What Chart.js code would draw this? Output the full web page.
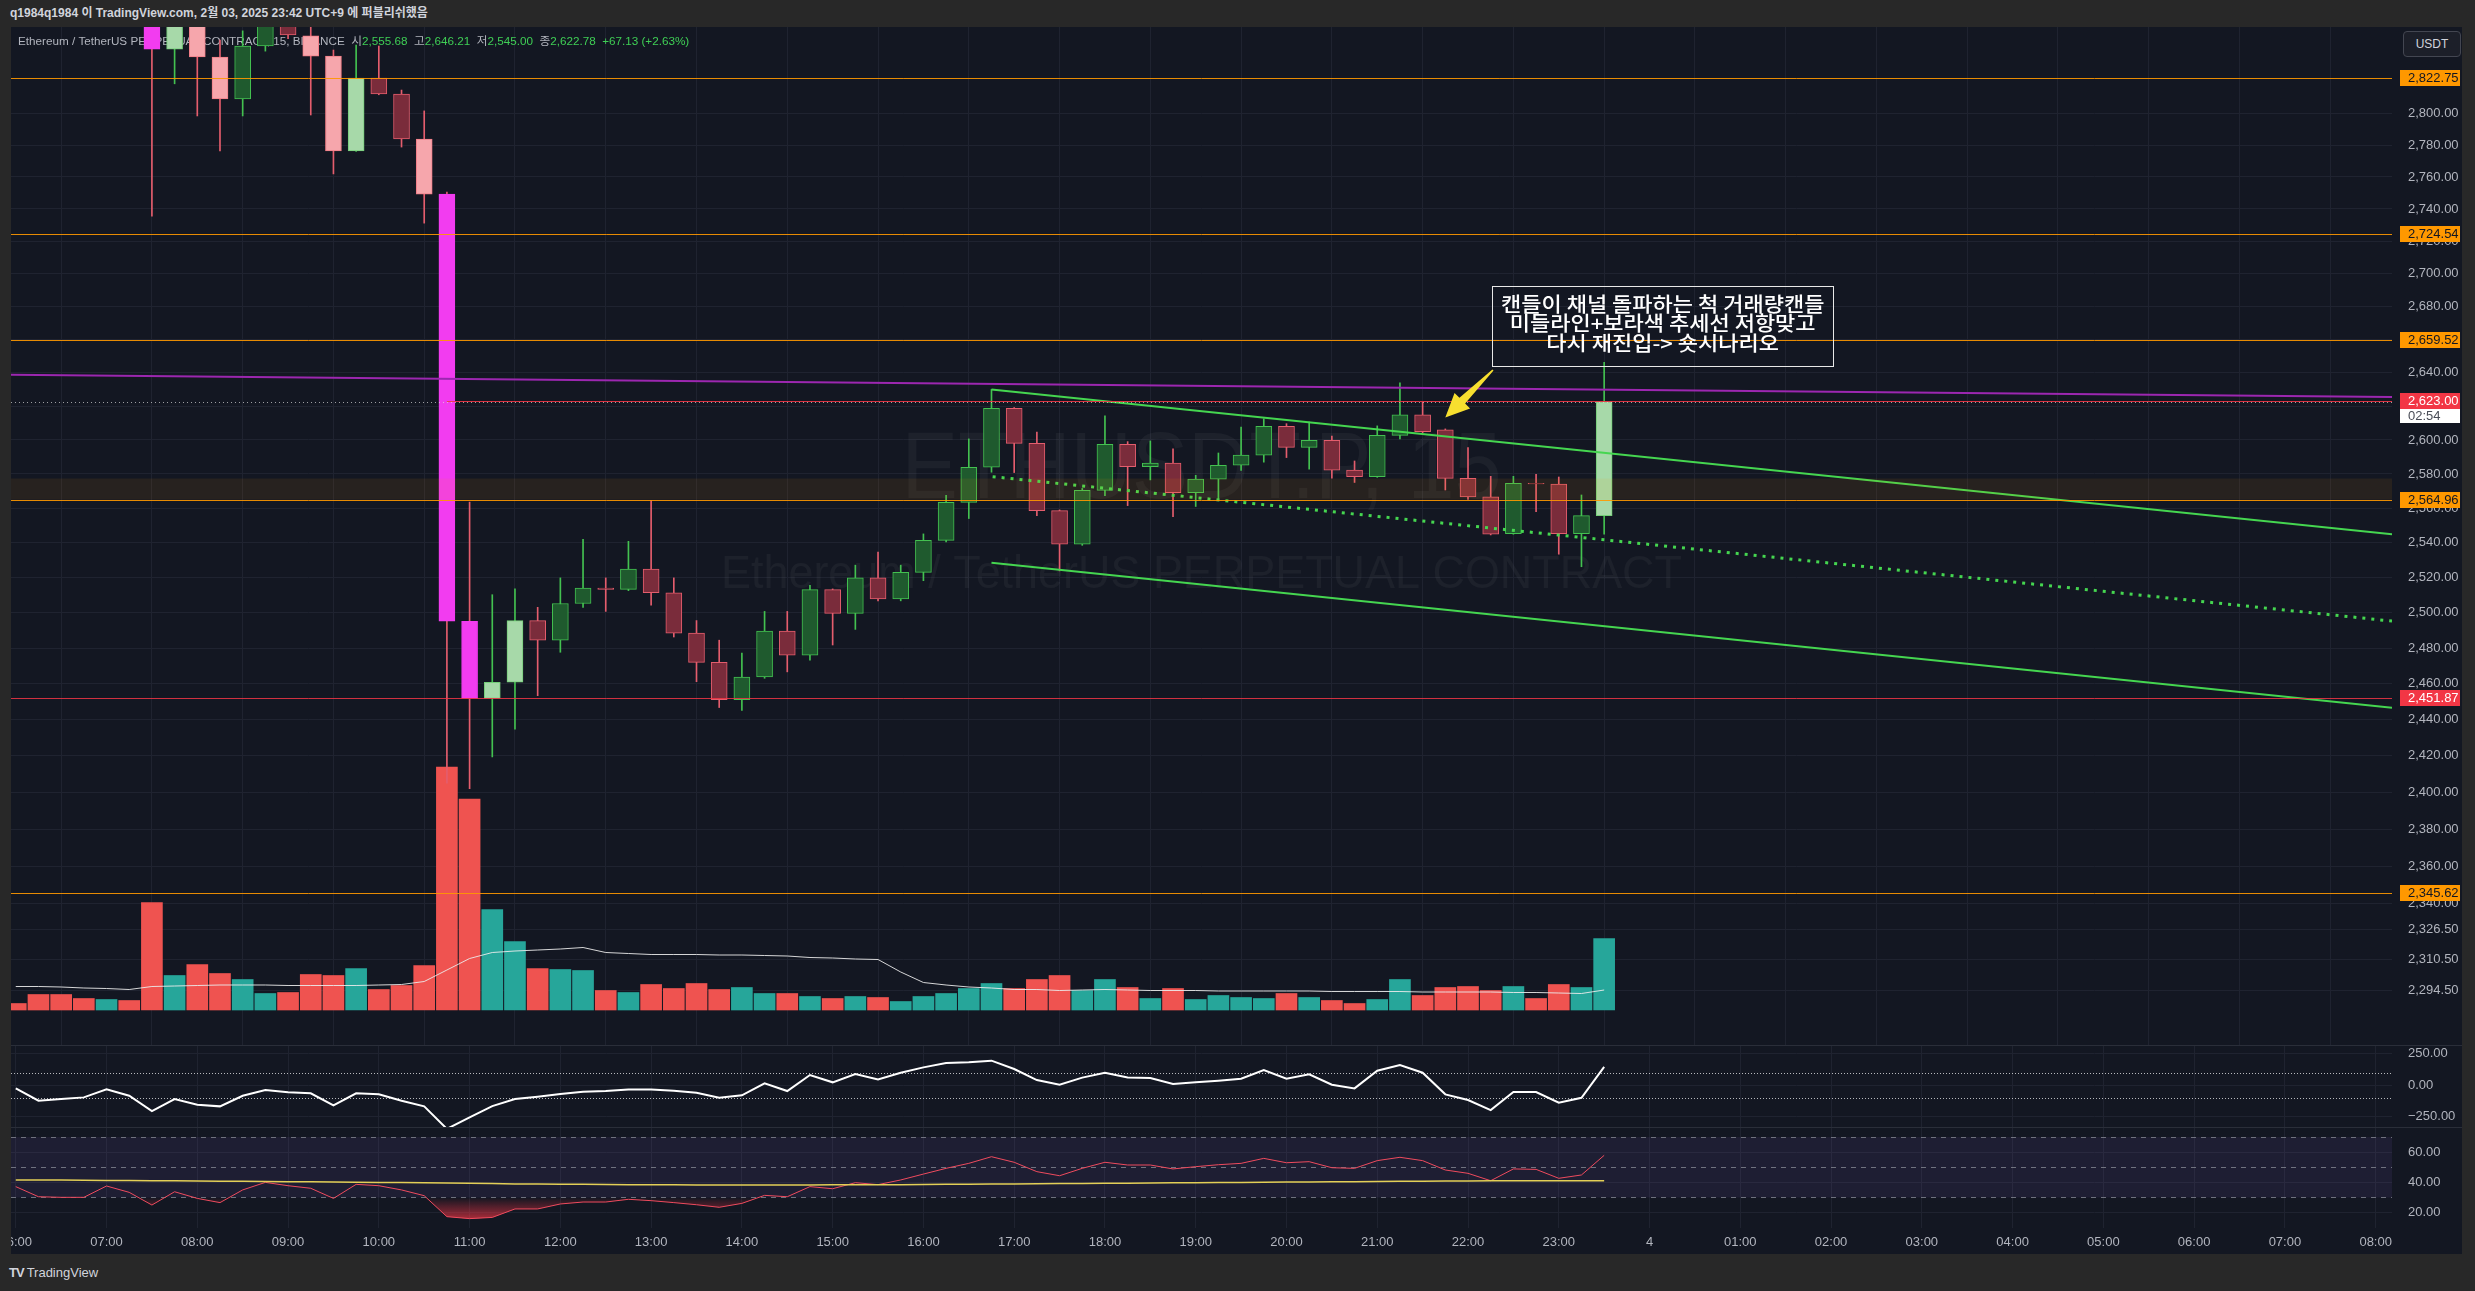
<!DOCTYPE html>
<html>
<head>
<meta charset="utf-8">
<title>ETHUSDT.P 15</title>
<script src="https://cdn.jsdelivr.net/npm/chart.js@4.4.1/dist/chart.umd.min.js"></script>
<style>
  html, body { margin: 0; padding: 0; }
  body { width: 2475px; height: 1291px; background: #282828; position: relative; overflow: hidden;
         font-family: 'Liberation Sans', 'Noto Sans CJK KR', sans-serif; }
  #caption { position: absolute; left: 10px; top: 0; height: 27px; line-height: 27px; font-size: 12px; font-weight: 700; color: #d1d4dc; }
  #frame { position: absolute; left: 11px; top: 27px; width: 2451px; height: 1227px; background: #2a2e39; }
  .pane { position: absolute; left: 11px; width: 2451px; background: #131722; }
  .pane canvas { display: block; }
  #usdt { position: absolute; left: 2403px; top: 31px; width: 56px; height: 24px; border: 1px solid #434651; border-radius: 4px;
          background: #1c1f29; color: #d1d4dc; font-size: 12px; line-height: 24px; text-align: center; }
  #brand { position: absolute; left: 9px; top: 1265px; font-size: 13px; color: #d1d4dc; }
  #brand b { font-weight: 900; letter-spacing: -1px; margin-right: 3px; }
</style>
</head>
<body>
<div id="caption">q1984q1984 이 TradingView.com, 2월 03, 2025 23:42 UTC+9 에 퍼블리쉬했음</div>
<div id="frame"></div>
<div class="pane" style="top:27px;height:1018px"><canvas id="main" width="2451" height="1018"></canvas></div>
<div class="pane" style="top:1046px;height:81px"><canvas id="cci" width="2451" height="81"></canvas></div>
<div class="pane" style="top:1128px;height:126px"><canvas id="rsi" width="2451" height="126"></canvas></div>
<div id="usdt">USDT</div>
<div id="brand"><b>TV</b>TradingView</div>

<script>
// ETHUSDT.P 15m, 06:00 .. 23:30 (one entry per bar)
const opens = [2935, 2925, 2915, 2900, 2890, 2898, 2882, 2841.2, 2870, 2836.2,
  2809.3, 2843.3, 2866, 2849.8, 2836.8, 2776.3, 2822.7, 2812.5, 2783.9, 2749.3,
  2495.1, 2451.8, 2460.8, 2495.5, 2484.4, 2505.2, 2514.0, 2513.2, 2524.8, 2511.3,
  2488.4, 2471.9, 2451.1, 2463.7, 2489.6, 2475.9, 2513.1, 2499.6, 2519.8, 2507.8,
  2523.0, 2541.4, 2563.4, 2583.9, 2618.7, 2598.0, 2558.6, 2539.1, 2570.4, 2597.4,
  2584.3, 2586.3, 2569.0, 2577.0, 2585.1, 2591.0, 2608.1, 2595.6, 2599.8, 2582.2,
  2578.4, 2602.7, 2614.8, 2605.9, 2577.4, 2566.6, 2545.3, 2574.5, 2574.1, 2545.3,
  2555.68];
const highs = [2942, 2931, 2922, 2908, 2904, 2903, 2890, 2878, 2875, 2847.2,
  2853.1, 2880, 2875, 2862, 2840.7, 2843.9, 2843.3, 2815.0, 2801.7, 2750.5,
  2563.6, 2510.2, 2513.5, 2503.0, 2519.8, 2541.9, 2519.8, 2540.8, 2564.6, 2519.8,
  2495.5, 2484.4, 2477.1, 2500.7, 2500.7, 2515.6, 2513.5, 2527.1, 2534.6, 2527.1,
  2545.1, 2567.5, 2600.6, 2630.0, 2619.2, 2604.6, 2559.0, 2571.5, 2614.2, 2599.0,
  2599.4, 2594.8, 2579.2, 2592.3, 2607.6, 2612.5, 2609.6, 2610.6, 2602.3, 2587.6,
  2608.3, 2634.0, 2622.3, 2606.5, 2595.5, 2578.6, 2578.6, 2579.7, 2578.2, 2567.7,
  2646.21];
const lows = [2921, 2909, 2894, 2882, 2884, 2872, 2735.6, 2819.0, 2798.5, 2776.3,
  2798.5, 2840, 2848, 2799.1, 2761.9, 2776.0, 2812.0, 2778.8, 2731.2, 2405,
  2402, 2419.4, 2434.7, 2453.3, 2477.6, 2502.9, 2500.7, 2512.5, 2504.2, 2486.2,
  2461.1, 2446.7, 2445.1, 2463.0, 2466.6, 2473.2, 2481.7, 2490.5, 2506.7, 2506.7,
  2518.2, 2540.5, 2554.0, 2581.0, 2580.8, 2555.7, 2523.8, 2538.5, 2567.3, 2561.5,
  2576.5, 2555.1, 2561.0, 2565.1, 2582.0, 2586.9, 2589.6, 2582.8, 2577.5, 2575.0,
  2578.0, 2600.6, 2604.2, 2570.6, 2565.1, 2544.5, 2544.9, 2558.0, 2533.4, 2526.2,
  2545.00];
const closes = [2925, 2915, 2900, 2890, 2898, 2882, 2841.2, 2870, 2836.2, 2809.3,
  2843.3, 2866, 2850.4, 2836.8, 2776.3, 2822.7, 2812.5, 2783.9, 2749.3, 2495.1,
  2451.8, 2460.8, 2495.5, 2484.4, 2505.2, 2514.0, 2513.2, 2524.8, 2511.3, 2488.4,
  2471.9, 2451.1, 2463.7, 2489.6, 2475.9, 2513.1, 2499.6, 2519.8, 2507.8, 2523.0,
  2541.4, 2563.4, 2583.9, 2618.7, 2598.0, 2558.6, 2539.1, 2570.4, 2597.4, 2584.3,
  2586.3, 2569.0, 2577.0, 2585.1, 2591.0, 2608.1, 2595.6, 2599.8, 2582.2, 2578.4,
  2602.7, 2614.8, 2604.9, 2577.4, 2566.6, 2544.9, 2574.5, 2574.1, 2545.3, 2555.65,
  2622.78];
// 0 = normal, 1 = high volume, 2 = extreme volume (candle colouring)
const volumeTier = [0, 0, 0, 0, 0, 0, 2, 1, 1, 1,
  0, 0, 0, 1, 1, 1, 0, 0, 1, 2,
  2, 1, 1, 0, 0, 0, 0, 0, 0, 0,
  0, 0, 0, 0, 0, 0, 0, 0, 0, 0,
  0, 0, 0, 0, 0, 0, 0, 0, 0, 0,
  0, 0, 0, 0, 0, 0, 0, 0, 0, 0,
  0, 0, 0, 0, 0, 0, 0, 0, 0, 0, 1];
const volumeK = [13, 31, 31, 23, 21, 19, 215, 69, 91, 73,
  61, 33, 35, 71, 69, 83, 41, 49, 89, 486,
  422, 201, 137, 83, 81, 79, 39, 35, 51, 43,
  53, 41, 45, 33, 33, 27, 23, 27, 25, 17,
  27, 33, 43, 53, 43, 61, 69, 39, 61, 45,
  23, 43, 21, 29, 25, 23, 33, 25, 19, 13,
  21, 61, 29, 45, 47, 39, 47, 23, 51, 45, 143];
const volumeMaK = [47, 47, 46, 44, 43, 41, 47, 48, 49, 50,
  50, 50, 49, 49, 49, 49, 50, 51, 57, 80,
  103, 115, 118, 120, 122, 125, 115, 113, 111, 111,
  111, 110, 110, 109, 108, 105, 104, 102, 101, 76,
  55, 50, 46, 44, 41, 41, 39, 40, 41, 40,
  39, 39, 39, 38, 38, 38, 38, 38, 37, 37,
  37, 37, 36, 36, 36, 36, 35, 35, 34, 33, 40];
const cciValues = [-25, -122, -109, -96, -33, -83, -204, -109, -154, -167,
  -83, -38, -56, -64, -159, -64, -72, -122, -167, -345,
  -254, -165, -109, -91, -70, -51, -46, -33, -33, -43,
  -59, -99, -80, 15, -46, 81, 23, 89, 46, 99,
  141, 176, 181, 194, 128, 41, 4, 60, 99, 62,
  57, 10, 23, 36, 52, 120, 52, 86, 4, -25,
  115, 160, 99, -72, -117, -196, -54, -54, -138, -99, 145];
const rsiValues = [37.2, 30.5, 30.1, 30.1, 37.6, 33.4, 25.0, 33.8, 29.4, 26.6,
  35.0, 40.0, 37.8, 36.1, 29.4, 38.7, 37.8, 35.0, 31.2, 17.3,
  16.0, 16.8, 22.4, 22.4, 25.7, 27.0, 27.0, 28.8, 27.9, 26.6,
  25.2, 23.5, 26.1, 31.4, 30.5, 37.2, 35.8, 39.8, 38.5, 41.6,
  45.5, 49.3, 52.6, 57.0, 53.3, 47.1, 44.4, 49.3, 53.3, 51.5,
  51.5, 48.9, 50.4, 51.7, 52.6, 55.9, 53.0, 53.7, 49.7, 49.3,
  54.4, 56.6, 54.4, 48.2, 46.0, 41.1, 48.9, 48.6, 42.7, 44.9, 57.9];
const rsiMaValues = [41.6, 41.5, 41.5, 41.4, 41.3, 41.2, 41.1, 41.0, 40.9, 40.8,
  40.7, 40.6, 40.5, 40.4, 40.3, 40.1, 40.0, 39.9, 39.8, 39.6,
  39.4, 39.2, 39.0, 38.9, 38.8, 38.7, 38.6, 38.5, 38.4, 38.4,
  38.3, 38.3, 38.3, 38.3, 38.3, 38.3, 38.4, 38.4, 38.5, 38.5,
  38.6, 38.7, 38.8, 38.9, 39.0, 39.1, 39.2, 39.3, 39.4, 39.5,
  39.6, 39.7, 39.8, 39.9, 40.0, 40.1, 40.2, 40.3, 40.4, 40.5,
  40.6, 40.7, 40.8, 40.9, 40.9, 41.0, 41.0, 41.1, 41.1, 41.1, 41.1];

const timeTickLabels = ['06:00', '07:00', '08:00', '09:00', '10:00', '11:00', '12:00', '13:00', '14:00',
  '15:00', '16:00', '17:00', '18:00', '19:00', '20:00', '21:00', '22:00', '23:00', '4',
  '01:00', '02:00', '03:00', '04:00', '05:00', '06:00', '07:00', '08:00'];
const priceTicks = [2800, 2780, 2760, 2740, 2720, 2700, 2680, 2660, 2640, 2620, 2600, 2580, 2560,
  2540, 2520, 2500, 2480, 2460, 2440, 2420, 2400, 2380, 2360, 2340, 2326.5, 2310.5, 2294.5];
const cciTicks = [250, 0, -250];
const cciGuideLevels = [100, -100];
const rsiTicks = [60, 40, 20];
const rsiGuideLevels = [70, 50, 30];

// drawings
const orangeLevels = [2822.75, 2724.54, 2659.52, 2564.96, 2345.62];
const redLevel = 2451.87;
const rayLevel = 2623.00;
const rayFromBar = 19;
const zoneBand = [2564.96, 2577.3];
const purpleTrend = [{ x: -0.21, y: 2638.7 }, { x: 104.72, y: 2625.5 }];
const channelTop = [{ x: 43.0, y: 2630.0 }, { x: 104.72, y: 2544.9 }];
const channelMid = [{ x: 43.05, y: 2578.4 }, { x: 104.72, y: 2495.2 }];
const channelBottom = [{ x: 43.0, y: 2528.5 }, { x: 104.72, y: 2446.6 }];
const noteLines = ['캔들이 채널 돌파하는 척 거래량캔들', '미들라인+보라색 추세선 저항맞고', '다시 재진입-> 숏시나리오'];
const noteBox = { x0: 65.06, x1: 80.1, top: 2692.5, bottom: 2644.2 };
const noteLinePrices = [2681.1, 2669.8, 2657.7];
const arrowTail = { x: 65.1, y: 2641.6 };
const arrowTip = { x: 63.0, y: 2613.2 };
const countdown = '02:54';

// axis ranges
const X_MIN = -0.21, X_MAX = 104.72;
const PRICE_MIN = 2266.2, PRICE_MAX = 2855.6;
const VOL_MIN = -70, VOL_MAX = 1966;

const GRID = '#1f2330';
const AXIS_TEXT = '#b2b5be';
const bars = opens.map((_, i) => i);

Chart.defaults.font.family = "'Liberation Sans', 'Noto Sans CJK KR', sans-serif";
Chart.defaults.font.size = 13;
Chart.defaults.color = AXIS_TEXT;

const fmtPrice = v => v.toLocaleString('en-US', { minimumFractionDigits: 2, maximumFractionDigits: 2 });
const fmtSigned = v => (v < 0 ? '\u2212' : '') + fmtPrice(Math.abs(v));

function bodyColors(i) {
  const up = closes[i] >= opens[i];
  const t = volumeTier[i];
  if (t === 2) return up ? ['#00e5ff', '#00e5ff'] : ['#f23cf0', '#f23cf0'];
  if (t === 1) return up ? ['#a7d9a9', '#74cf78'] : ['#f6a6ac', '#f27d87'];
  return up ? ['#1f5a2e', '#43c150'] : ['#7a2c3b', '#e45d6d'];
}
const wickColor = i => closes[i] >= opens[i] ? '#43c150' : '#e45d6d';

const fitRightAxis = s => { s.width = 70; s.paddingTop = 0; s.paddingBottom = 0; };

function xScale(showLabels) {
  return {
    type: 'linear', min: X_MIN, max: X_MAX, bounds: 'data', offset: false,
    grid: { color: GRID, drawTicks: false }, border: { display: false },
    ticks: { display: showLabels, autoSkip: false, maxRotation: 0, padding: 7, color: AXIS_TEXT,
             callback: (v, i) => timeTickLabels[i] },
    afterBuildTicks: s => { s.ticks = timeTickLabels.map((_, k) => ({ value: k * 4 })); },
    afterFit: s => { s.height = showLabels ? 26 : 0; s.paddingLeft = 0; s.paddingRight = 0; }
  };
}

function hLine(ctx, a, yPix, color, dash, x0) {
  ctx.save();
  ctx.strokeStyle = color;
  ctx.lineWidth = 1;
  ctx.setLineDash(dash || []);
  const yy = Math.round(yPix) + 0.5;
  ctx.beginPath();
  ctx.moveTo(x0 === undefined ? a.left : x0, yy);
  ctx.lineTo(a.right, yy);
  ctx.stroke();
  ctx.restore();
}

function axisTag(ctx, a, yPix, text, bg, fg) {
  const yy = Math.round(yPix);
  ctx.fillStyle = bg;
  ctx.fillRect(a.right + 8, yy - 8, 60, 16);
  ctx.fillStyle = fg;
  ctx.font = "13px 'Liberation Sans'";
  ctx.textAlign = 'left';
  ctx.textBaseline = 'middle';
  ctx.fillText(text, a.right + 16, yy + 0.5);
}

function squeezeText(ctx, text, cx, cy, size, width) {
  ctx.font = size + "px 'Liberation Sans'";
  const w = ctx.measureText(text).width;
  ctx.save();
  ctx.translate(cx, cy);
  ctx.scale(width / w, 1);
  ctx.fillText(text, 0, 0);
  ctx.restore();
}

const mainOverlay = {
  id: 'mainOverlay',
  beforeDatasetsDraw(chart) {
    const { ctx, chartArea: a } = chart;
    ctx.save();
    // watermark
    ctx.fillStyle = 'rgba(255,255,255,0.045)';
    ctx.textAlign = 'center';
    ctx.textBaseline = 'middle';
    const cx = (a.left + a.right) / 2;
    squeezeText(ctx, 'ETHUSDT.P, 15', cx, a.top + 445, 95, 600);
    squeezeText(ctx, 'Ethereum / TetherUS PERPETUAL CONTRACT', cx, a.top + 548, 47, 961);
    // legend
    const last = closes.length - 1;
    const chg = closes[last] - closes[last - 1];
    const sign = chg >= 0 ? '+' : '';
    const GREY = '#b2b5be', GREEN = '#3fcf55';
    const segs = [
      ['Ethereum / TetherUS PERPETUAL CONTRACT, 15, BINANCE  시', GREY],
      [fmtPrice(opens[last]), GREEN], ['  고', GREY], [fmtPrice(highs[last]), GREEN],
      ['  저', GREY], [fmtPrice(lows[last]), GREEN], ['  종', GREY],
      [fmtPrice(closes[last]) + '  ' + sign + fmtPrice(chg) + ' (' + sign + (chg / closes[last - 1] * 100).toFixed(2) + '%)', GREEN]
    ];
    ctx.font = "11.7px 'Liberation Sans', 'Noto Sans CJK KR'";
    ctx.textAlign = 'left';
    let px = a.left + 7;
    for (const [t, c] of segs) {
      ctx.fillStyle = c;
      ctx.fillText(t, px, a.top + 15);
      px += ctx.measureText(t).width;
    }
    ctx.restore();
  },
  afterDatasetsDraw(chart) {
    const { ctx, chartArea: a, scales: { x, y } } = chart;
    ctx.save();
    ctx.beginPath();
    ctx.rect(a.left, a.top, a.right - a.left, a.bottom - a.top);
    ctx.clip();
    // zone
    const z0 = y.getPixelForValue(zoneBand[1]), z1 = y.getPixelForValue(zoneBand[0]);
    ctx.fillStyle = 'rgba(255,152,0,0.085)';
    ctx.fillRect(a.left, z0, a.right - a.left, z1 - z0);
    // levels
    orangeLevels.forEach(p => hLine(ctx, a, y.getPixelForValue(p), 'rgba(255,152,0,0.9)'));
    hLine(ctx, a, y.getPixelForValue(redLevel), 'rgba(242,54,69,0.85)');
    hLine(ctx, a, y.getPixelForValue(closes[closes.length - 1]), 'rgba(220,220,220,0.7)', [1, 3]);
    hLine(ctx, a, y.getPixelForValue(rayLevel), 'rgba(242,54,69,0.9)', [], x.getPixelForValue(rayFromBar));
    // note box
    const bx0 = x.getPixelForValue(noteBox.x0), bx1 = x.getPixelForValue(noteBox.x1);
    const by0 = y.getPixelForValue(noteBox.top), by1 = y.getPixelForValue(noteBox.bottom);
    ctx.strokeStyle = '#e8e8e8';
    ctx.lineWidth = 1;
    ctx.strokeRect(Math.round(bx0) + 0.5, Math.round(by0) + 0.5, Math.round(bx1 - bx0), Math.round(by1 - by0));
    ctx.fillStyle = '#ffffff';
    ctx.font = "500 20px 'Noto Sans CJK KR'";
    ctx.textAlign = 'center';
    ctx.textBaseline = 'middle';
    noteLines.forEach((t, k) => {
      ctx.save();
      ctx.translate((bx0 + bx1) / 2, y.getPixelForValue(noteLinePrices[k]));
      ctx.scale(1.1, 1);
      ctx.fillText(t, 0, 0);
      ctx.restore();
    });
    // arrow
    const tx = x.getPixelForValue(arrowTail.x), ty = y.getPixelForValue(arrowTail.y);
    const hx = x.getPixelForValue(arrowTip.x), hy = y.getPixelForValue(arrowTip.y);
    const len = Math.hypot(hx - tx, hy - ty);
    const ux = (hx - tx) / len, uy = (hy - ty) / len, nx = -uy, ny = ux;
    const hl = 24, hw = 11, sw = 4;
    const bxh = hx - ux * hl, byh = hy - uy * hl;
    ctx.fillStyle = '#f7df2f';
    ctx.beginPath();
    ctx.moveTo(tx + nx * 0.8, ty + ny * 0.8);
    ctx.lineTo(bxh + nx * sw, byh + ny * sw);
    ctx.lineTo(bxh + nx * hw, byh + ny * hw);
    ctx.lineTo(hx, hy);
    ctx.lineTo(bxh - nx * hw, byh - ny * hw);
    ctx.lineTo(bxh - nx * sw, byh - ny * sw);
    ctx.lineTo(tx - nx * 0.8, ty - ny * 0.8);
    ctx.closePath();
    ctx.fill();
    ctx.restore();
  },
  afterDraw(chart) {
    const { ctx, chartArea: a, scales: { y } } = chart;
    ctx.save();
    orangeLevels.forEach(p => axisTag(ctx, a, y.getPixelForValue(p), fmtPrice(p), '#ff9800', '#131722'));
    axisTag(ctx, a, y.getPixelForValue(redLevel), fmtPrice(redLevel), '#f23645', '#ffffff');
    const ry = Math.round(y.getPixelForValue(rayLevel));
    ctx.fillStyle = '#ffffff';
    ctx.fillRect(a.right + 8, ry + 7, 60, 15);
    axisTag(ctx, a, ry, fmtPrice(rayLevel), '#f23645', '#ffffff');
    ctx.fillStyle = '#4a4d57';
    ctx.fillText(countdown, a.right + 16, ry + 15);
    ctx.restore();
  }
};

new Chart(document.getElementById('main'), {
  type: 'bar',
  data: {
    datasets: [
      { type: 'line', data: purpleTrend, borderColor: '#9c27b0', borderWidth: 2, pointRadius: 0, order: 1, yAxisID: 'y' },
      { type: 'line', data: channelTop, borderColor: '#45d650', borderWidth: 2, pointRadius: 0, order: 1, yAxisID: 'y' },
      { type: 'line', data: channelBottom, borderColor: '#45d650', borderWidth: 2, pointRadius: 0, order: 1, yAxisID: 'y' },
      { type: 'line', data: channelMid, borderColor: '#45d650', borderWidth: 3, borderDash: [3, 6], pointRadius: 0, order: 1, yAxisID: 'y' },
      { type: 'bar', data: bars.map(i => ({ x: i, y: [opens[i], closes[i]] })), yAxisID: 'y',
        backgroundColor: bars.map(i => bodyColors(i)[0]), borderColor: bars.map(i => bodyColors(i)[1]),
        borderWidth: 1, borderSkipped: false, barThickness: 16, grouped: false, order: 3 },
      { type: 'bar', data: bars.map(i => ({ x: i, y: [lows[i], highs[i]] })), yAxisID: 'y',
        backgroundColor: bars.map(wickColor), barThickness: 1, grouped: false, order: 4 },
      { type: 'line', data: bars.map(i => ({ x: i, y: volumeMaK[i] })), yAxisID: 'yv',
        borderColor: 'rgba(235,235,235,0.9)', borderWidth: 1, pointRadius: 0, order: 5 },
      { type: 'bar', data: bars.map(i => ({ x: i, y: volumeK[i] })), yAxisID: 'yv',
        backgroundColor: bars.map(i => closes[i] >= opens[i] ? '#26a69a' : '#ef5350'),
        barThickness: 21, grouped: false, order: 6 }
    ]
  },
  options: {
    responsive: false, animation: false, events: [],
    layout: { padding: 0 },
    plugins: { legend: { display: false }, tooltip: { enabled: false } },
    scales: {
      x: xScale(false),
      y: {
        type: 'logarithmic', position: 'right', min: PRICE_MIN, max: PRICE_MAX, bounds: 'data',
        grid: { color: GRID, drawTicks: false }, border: { display: false },
        ticks: { autoSkip: false, padding: 16, color: AXIS_TEXT, callback: v => fmtPrice(v) },
        afterBuildTicks: s => { s.ticks = priceTicks.map(v => ({ value: v })); },
        afterFit: fitRightAxis
      },
      yv: { type: 'linear', display: false, min: VOL_MIN, max: VOL_MAX }
    }
  },
  plugins: [mainOverlay]
});

const cciGuides = {
  id: 'cciGuides',
  beforeDatasetsDraw(chart) {
    const { ctx, chartArea: a, scales: { y } } = chart;
    cciGuideLevels.forEach(v => hLine(ctx, a, y.getPixelForValue(v), 'rgba(255,255,255,0.7)', [1, 2]));
  }
};

new Chart(document.getElementById('cci'), {
  type: 'line',
  data: { datasets: [{ data: bars.map(i => ({ x: i, y: cciValues[i] })), borderColor: '#ffffff', borderWidth: 2, pointRadius: 0 }] },
  options: {
    responsive: false, animation: false, events: [],
    layout: { padding: 0 },
    plugins: { legend: { display: false }, tooltip: { enabled: false } },
    scales: {
      x: xScale(false),
      y: {
        type: 'linear', position: 'right', min: -330, max: 310, bounds: 'data',
        grid: { color: GRID, drawTicks: false }, border: { display: false },
        ticks: { autoSkip: false, padding: 16, color: AXIS_TEXT, callback: v => fmtSigned(v) },
        afterBuildTicks: s => { s.ticks = cciTicks.map(v => ({ value: v })); },
        afterFit: fitRightAxis
      }
    }
  },
  plugins: [cciGuides]
});

const rsiGuides = {
  id: 'rsiGuides',
  beforeDatasetsDraw(chart) {
    const { ctx, chartArea: a, scales: { y } } = chart;
    const t = y.getPixelForValue(rsiGuideLevels[0]), b = y.getPixelForValue(rsiGuideLevels[2]);
    ctx.save();
    ctx.fillStyle = 'rgba(126,87,194,0.11)';
    ctx.fillRect(a.left, t, a.right - a.left, b - t);
    ctx.restore();
    rsiGuideLevels.forEach(v => hLine(ctx, a, y.getPixelForValue(v), 'rgba(140,143,154,0.75)', [5, 5]));
  }
};

new Chart(document.getElementById('rsi'), {
  type: 'line',
  data: {
    datasets: [
      { data: bars.map(i => ({ x: i, y: rsiMaValues[i] })), borderColor: '#e3cf57', borderWidth: 1.5, pointRadius: 0 },
      { data: bars.map(i => ({ x: i, y: rsiValues[i] })), borderColor: '#ef4b5e', borderWidth: 1, pointRadius: 0,
        fill: { target: { value: 30 }, above: 'rgba(0,0,0,0)' },
        backgroundColor: c => {
          const ch = c.chart;
          if (!ch.chartArea) return 'rgba(242,54,69,0.3)';
          const ys = ch.scales.y;
          const g = ch.ctx.createLinearGradient(0, ys.getPixelForValue(30), 0, ys.getPixelForValue(12));
          g.addColorStop(0, 'rgba(242,54,69,0)');
          g.addColorStop(1, 'rgba(242,54,69,0.85)');
          return g;
        } }
    ]
  },
  options: {
    responsive: false, animation: false, events: [],
    layout: { padding: 0 },
    plugins: { legend: { display: false }, tooltip: { enabled: false } },
    scales: {
      x: xScale(true),
      y: {
        type: 'linear', position: 'right', min: 9.8, max: 76.0, bounds: 'data',
        grid: { color: GRID, drawTicks: false }, border: { display: false },
        ticks: { autoSkip: false, padding: 16, color: AXIS_TEXT, callback: v => fmtSigned(v) },
        afterBuildTicks: s => { s.ticks = rsiTicks.map(v => ({ value: v })); },
        afterFit: fitRightAxis
      }
    }
  },
  plugins: [rsiGuides]
});
</script>
</body>
</html>
